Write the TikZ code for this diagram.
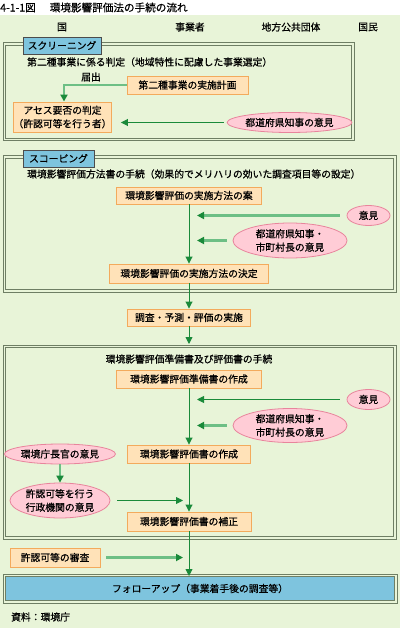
\documentclass[tikz,border=0pt]{standalone}
\usepackage{fontspec}
\setmainfont{Noto Sans CJK JP}[FakeBold=0.6]
\usetikzlibrary{arrows.meta,shapes.geometric}
\definecolor{bgc}{HTML}{E8F4D8}
\definecolor{framec}{HTML}{6E7E64}
\definecolor{boxfill}{HTML}{FFE2B8}
\definecolor{boxdraw}{HTML}{F3AA5C}
\definecolor{pinkfill}{HTML}{FFCCD6}
\definecolor{pinkdraw}{HTML}{E8849C}
\definecolor{tabblue}{HTML}{7EC4DE}
\definecolor{dkgreen}{HTML}{1A8A3A}
\definecolor{ltgreen}{HTML}{6DBF85}
\tikzset{
  txt/.style={font=\fontsize{9.8}{13.5}\selectfont, inner sep=0pt, align=center},
  obox/.style={txt, draw=boxdraw, fill=boxfill, line width=0.9pt},
  pell/.style={txt, ellipse, draw=pinkdraw, fill=pinkfill, line width=0.8pt},
  tabbox/.style={txt, draw=black!70, fill=tabblue, line width=0.7pt, minimum height=17pt},
  frameline/.style={draw=framec, line width=1pt},
  darr/.style={draw=dkgreen, line width=0.9pt, -{Triangle[width=7pt,length=7pt,color=dkgreen]}},
  larr/.style={draw=ltgreen, line width=2.2pt, -{Triangle[width=7pt,length=7pt,color=dkgreen,fill=dkgreen]}},
}
\begin{document}
\begin{tikzpicture}[x=1pt,y=-1pt]
\useasboundingbox (0,0) rectangle (400,628);
\fill[white] (0,0) rectangle (400,15);
\fill[bgc] (0,15) rectangle (400,628);
% title
\node[txt, anchor=west, font=\fontsize{10.6}{12}\selectfont] (title) at (0,7.5) {4-1-1図\hspace{14pt}環境影響評価法の手続の流れ};
% column headers
\node[txt] (hkuni) at (62,27) {国};
\node[txt] (hjig) at (190,27) {事業者};
\node[txt] (hchiho) at (291,27) {地方公共団体};
\node[txt] (hkokumin) at (368,27) {国民};
% frames
\draw[frameline] (3,43) rectangle (354,141);
\draw[frameline] (5.7,45.7) rectangle (351.3,138.3);
\draw[frameline] (3,156) rectangle (396,292);
\draw[frameline] (5.7,158.7) rectangle (393.3,289.3);
\draw[frameline] (3,345) rectangle (396,539);
\draw[frameline] (5.7,347.7) rectangle (393.3,536.3);
\coordinate (f3top) at (189,344);
% tabs
\node[tabbox, minimum width=78pt] (tab1) at (62,45.5) {スクリーニング};
\node[tabbox, minimum width=71pt] (tab2) at (58.5,158.5) {スコーピング};
% section 1
\node[txt, anchor=west] (s1label) at (27,62) {第二種事業に係る判定（地域特性に配慮した事業選定）};
\node[txt] (todokede) at (91,77) {届出};
\node[obox, minimum width=121pt, minimum height=18pt] (keikaku) at (187.5,85) {第二種事業の実施計画};
\node[obox, minimum width=93pt, minimum height=30pt] (hantei) at (62.5,117) {アセス要否の判定\\（許認可等を行う者）};
\node[pell, minimum width=115pt, minimum height=20pt] (chiji1) at (289.5,122.5) {都道府県知事の意見};
\draw[larr] (keikaku.west) -| (hantei.north -| 64,0);
\draw[darr, shorten <=3pt, shorten >=9pt] (chiji1.west) -- (chiji1.west -| hantei.east);
% section 2
\node[txt, anchor=west] (s2label) at (27,174) {環境影響評価方法書の手続（効果的でメリハリの効いた調査項目等の設定）};
\node[obox, minimum width=145pt, minimum height=17pt] (an) at (189,195.5) {環境影響評価の実施方法の案};
\node[obox, minimum width=159pt, minimum height=19pt] (kettei) at (189,273.5) {環境影響評価の実施方法の決定};
\node[pell, minimum width=43pt, minimum height=20pt] (iken1) at (368.5,215.5) {意見};
\node[pell, minimum width=114pt, minimum height=35pt] (chiji2) at (290,240.5) {都道府県知事・\\市町村長の意見};
\draw[darr] (an.south) -- (kettei.north);
\draw[larr, shorten <=7pt, shorten >=8pt] (iken1.west) -- (iken1.west -| an.south);
\draw[larr, shorten <=6pt, shorten >=8pt] (chiji2.west) -- (chiji2.west -| an.south);
% middle
\node[obox, minimum width=123pt, minimum height=17pt] (jisshi) at (189,317.5) {調査・予測・評価の実施};
\draw[darr] (kettei.south) -- (jisshi.north);
\draw[darr] (jisshi.south) -- (f3top);
% section 3
\node[txt] (s3label) at (189,359) {環境影響評価準備書及び評価書の手続};
\node[obox, minimum width=145pt, minimum height=18pt] (junbi) at (189,379) {環境影響評価準備書の作成};
\node[pell, minimum width=43pt, minimum height=20pt] (iken2) at (368.5,399.5) {意見};
\node[pell, minimum width=114pt, minimum height=34pt] (chiji3) at (290,425.5) {都道府県知事・\\市町村長の意見};
\node[obox, minimum width=123pt, minimum height=18pt] (hyoka) at (189,454) {環境影響評価書の作成};
\node[pell, minimum width=100pt, minimum height=20pt] (chokan) at (60,454) {環境庁長官の意見};
\node[pell, minimum width=100pt, minimum height=35pt] (gyosei) at (60,500.5) {許認可等を行う\\行政機関の意見};
\node[obox, minimum width=124pt, minimum height=19pt] (hosei) at (189,521.5) {環境影響評価書の補正};
\draw[darr] (junbi.south) -- (hyoka.north);
\draw[darr, shorten <=7pt, shorten >=8pt] (iken2.west) -- (iken2.west -| junbi.south);
\draw[larr, shorten <=6pt, shorten >=8pt] (chiji3.west) -- (chiji3.west -| junbi.south);
\draw[larr] (chokan.south) -- (gyosei.north);
\draw[darr, shorten <=7pt, shorten >=6pt] (gyosei.east) -- (gyosei.east -| hyoka.south);
\draw[darr] (hyoka.south) -- (hosei.north);
% bottom
\node[obox, minimum width=90pt, minimum height=19pt] (shinsa) at (55,557.5) {許認可等の審査};
\draw[frameline] (3,574) rectangle (397,603);
\node[txt, draw=framec, line width=1pt, fill=tabblue, minimum width=389pt, minimum height=24pt] (follow) at (200,588.5) {フォローアップ（事業着手後の調査等）};
\draw[darr] (hosei.south) -- (follow.north -| hosei.south);
\draw[larr, shorten <=6pt, shorten >=6pt] (shinsa.east) -- (shinsa.east -| hosei.south);
\node[txt, anchor=west] (source) at (11,617) {資料：環境庁};
\end{tikzpicture}
\end{document}
